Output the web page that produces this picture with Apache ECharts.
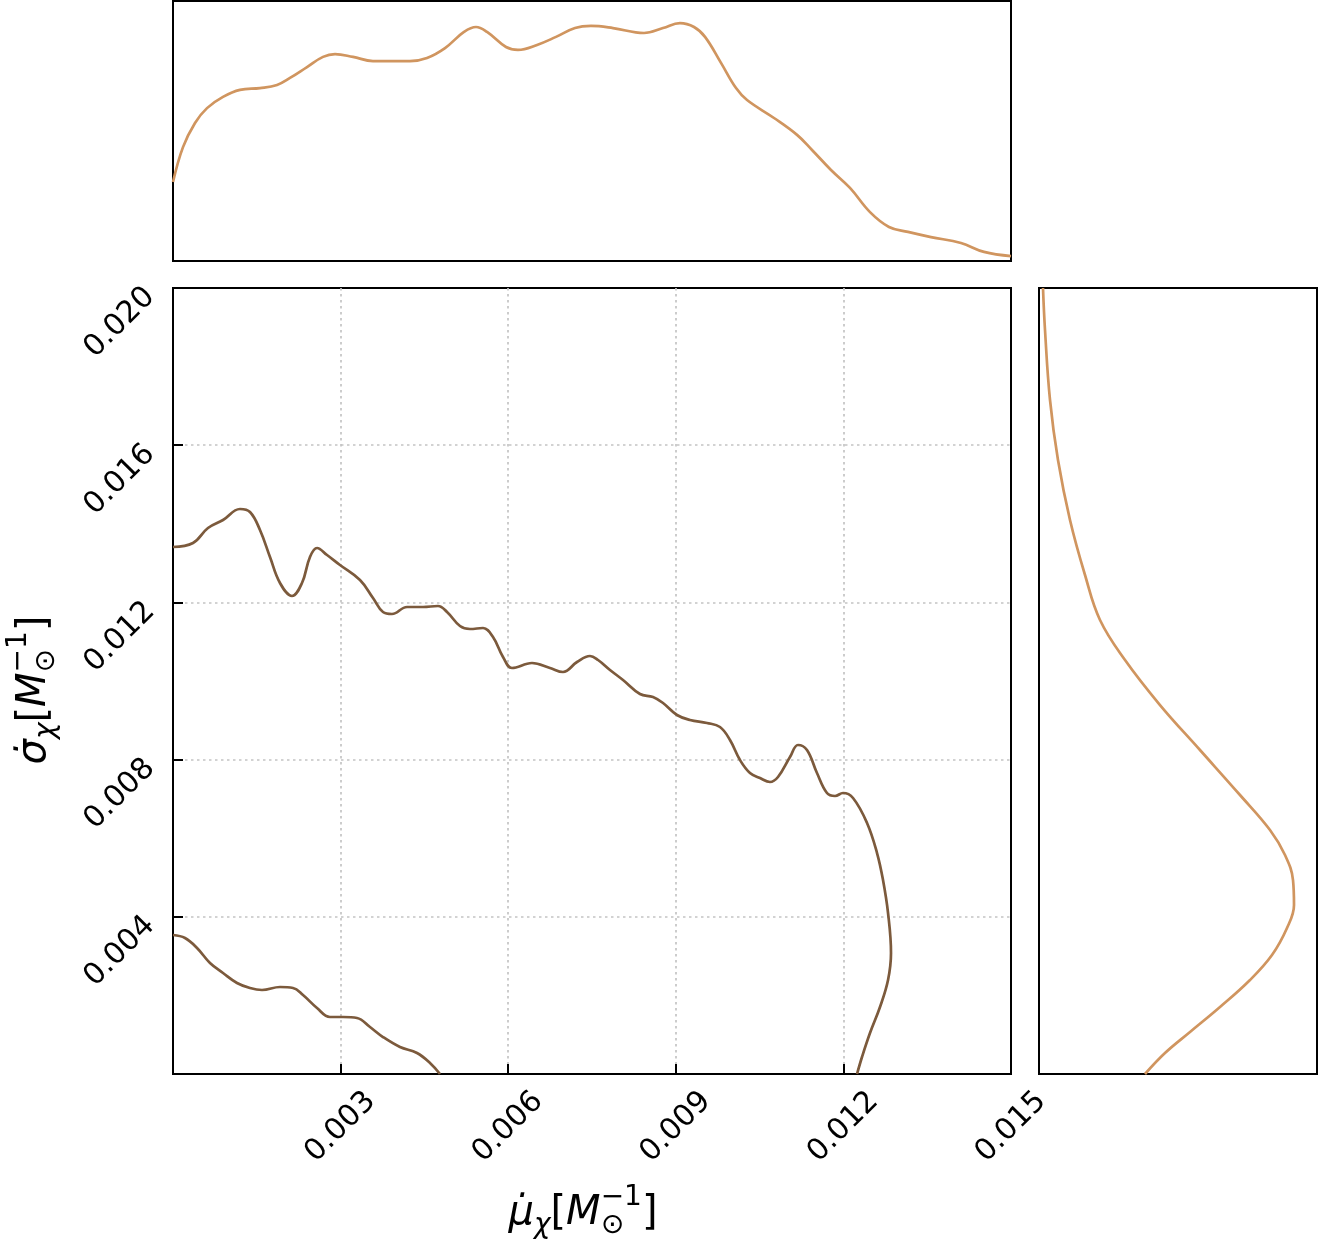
<!DOCTYPE html>
<html><head><meta charset="utf-8">
<script src="https://cdn.jsdelivr.net/npm/echarts@6/dist/echarts.min.js"></script>
<style>html,body{margin:0;padding:0;background:#fff}#c{width:1335px;height:1245px}</style>
</head><body><div id="c"></div><script>
// ---- data ----
const xTickValues = [0.003, 0.006, 0.009, 0.012, 0.015];
const xTickLabels = ['0.003', '0.006', '0.009', '0.012', '0.015'];
const yTickValues = [0.004, 0.008, 0.012, 0.016, 0.020];
const yTickLabels = ['0.004', '0.008', '0.012', '0.016', '0.020'];

// outer contour [mu_dot, sigma_dot]
const contourOuter = [
[0,0.013410],[0.000358,0.013511],[0.000626,0.013893],[0.000895,0.014097],[0.001199,0.014377],
[0.001378,0.014300],[0.001557,0.013842],[0.001736,0.013155],[0.001915,0.012494],[0.002130,0.012163],
[0.002309,0.012494],[0.002452,0.013155],[0.002578,0.013384],[0.002757,0.013206],[0.002989,0.012952],
[0.003347,0.012570],[0.003580,0.012112],[0.003759,0.011756],[0.003920,0.011705],[0.004189,0.011883],
[0.004475,0.011883],[0.004743,0.011908],[0.004905,0.011756],[0.005137,0.011399],[0.005316,0.011323],
[0.005549,0.011349],[0.005728,0.011120],[0.005907,0.010611],[0.006068,0.010331],[0.006426,0.010458],
[0.006748,0.010331],[0.006981,0.010229],[0.007232,0.010483],[0.007464,0.010636],[0.007608,0.010534],
[0.007822,0.010280],[0.008055,0.010025],[0.008359,0.009669],[0.008592,0.009593],[0.008771,0.009440],
[0.009021,0.009135],[0.009254,0.009008],[0.009558,0.008931],[0.009791,0.008829],[0.009970,0.008499],
[0.010149,0.007990],[0.010328,0.007659],[0.010507,0.007532],[0.010686,0.007430],[0.010829,0.007557],
[0.011044,0.008066],[0.011187,0.008372],[0.011348,0.008244],[0.011527,0.007659],[0.011706,0.007150],
[0.011850,0.007074],[0.011993,0.007150],[0.012172,0.007023],[0.012423,0.006387],[0.012602,0.005623],
[0.012709,0.004936],[0.012799,0.004097],[0.012852,0.003079],[0.012799,0.002392],[0.012655,0.001705],
[0.012476,0.001043],[0.012333,0.000433],[0.012244,0]
];
// inner contour
const contourInner = [
[0,0.003537],[0.000215,0.003461],[0.000430,0.003206],[0.000662,0.002824],[0.000895,0.002570],
[0.001146,0.002316],[0.001378,0.002188],[0.001593,0.002137],[0.001915,0.002214],[0.002148,0.002188],
[0.002327,0.002010],[0.002578,0.001679],[0.002810,0.001450],[0.003043,0.001450],[0.003294,0.001425],
[0.003526,0.001196],[0.003759,0.000941],[0.004063,0.000687],[0.004368,0.000534],[0.004600,0.000280],
[0.004779,0]
];
// marginal density of mu_dot (top panel): [mu_dot, density]
const margX = [
[0,0.304],[0.000179,0.438],[0.000394,0.531],[0.000609,0.588],[0.000895,0.631],[0.001199,0.658],
[0.001557,0.665],[0.001862,0.677],[0.002094,0.704],[0.002399,0.746],[0.002685,0.785],[0.002900,0.796],
[0.003222,0.785],[0.003580,0.769],[0.003938,0.769],[0.004242,0.769],[0.004547,0.781],[0.004869,0.819],
[0.005209,0.881],[0.005424,0.900],[0.005621,0.881],[0.005961,0.823],[0.006175,0.812],[0.006516,0.831],
[0.006856,0.862],[0.007196,0.896],[0.007482,0.904],[0.007876,0.896],[0.008431,0.877],[0.008771,0.896],
[0.009075,0.915],[0.009326,0.900],[0.009523,0.862],[0.009809,0.762],[0.010078,0.665],[0.010275,0.619],
[0.010758,0.550],[0.011170,0.485],[0.011438,0.427],[0.011778,0.350],[0.012118,0.281],[0.012476,0.188],
[0.012816,0.131],[0.013156,0.112],[0.013568,0.092],[0.014105,0.069],[0.014517,0.035],[0.015,0.019]
];
// marginal density of sigma_dot (right panel): [density, sigma_dot]
const margY = [
[0.0144,0.020],[0.0216,0.018931],[0.0396,0.017150],[0.0683,0.015623],[0.1115,0.014097],
[0.1655,0.012697],[0.2194,0.011552],[0.3094,0.010534],[0.4353,0.009389],[0.5791,0.008244],
[0.7230,0.007099],[0.8309,0.006209],[0.8849,0.005572],[0.9137,0.004936],[0.9173,0.004300],
[0.8921,0.003715],[0.8381,0.003028],[0.7590,0.002392],[0.6511,0.001705],[0.5432,0.001069],
[0.4532,0.000534],[0.3813,0]
];

// ---- style ----
const COL_MARG = '#d0955f';
const COL_CONT = '#7c5a3c';
const FONT = 'DejaVu Sans';
const TICK_FS = 30;
const TITLE_FS = 40;

const chart = echarts.init(document.getElementById('c'), null, {renderer: 'canvas'});

const mctx = document.createElement('canvas').getContext('2d');
function measure(t, size, italic) {
  mctx.font = (italic ? 'italic ' : 'normal ') + 'normal ' + size + 'px "' + FONT + '"';
  return mctx.measureText(t).width;
}
function mathPieces(pieces, S) {
  let x = 0, prevStart = 0, prevW = 0;
  const kids = [];
  pieces.forEach(p => {
    const size = S * (p.k || 1);
    const w = measure(p.t, size, p.it);
    let start;
    if (p.stack) { start = prevStart; x = prevStart + Math.max(prevW, w); }
    else { start = x; x += w; }
    let dy = 0;
    if (p.pos === 'sub') dy = 0.297 * S + 0.22 * S - 0.297 * size;
    if (p.pos === 'sup') dy = 0.297 * S - 0.47 * S - 0.297 * size;
    kids.push({type: 'text', x: start, y: dy,
      style: {text: p.t, fontSize: size, fontFamily: FONT, fontStyle: p.it ? 'italic' : 'normal',
        fill: '#000', align: 'left', verticalAlign: 'middle'}});
    prevStart = start; prevW = w;
  });
  return {kids, width: x};
}
const xTitle = mathPieces([
  {t: 'μ\u0307', it: true}, {t: 'χ', it: true, k: 0.7, pos: 'sub'}, {t: '['}, {t: 'M', it: true},
  {t: '⊙', k: 0.7, pos: 'sub'}, {t: '−1', k: 0.7, pos: 'sup', stack: true}, {t: ']'}
], TITLE_FS);
const yTitle = mathPieces([
  {t: 'σ\u0307', it: true}, {t: 'χ', it: true, k: 0.7, pos: 'sub'}, {t: '['}, {t: 'M', it: true},
  {t: '⊙', k: 0.7, pos: 'sub'}, {t: '−1', k: 0.7, pos: 'sup', stack: true}, {t: ']'}
], TITLE_FS);

const G_MAIN = {left: 173, top: 288, width: 838, height: 786};
const G_TOP = {left: 173, top: 1, width: 838, height: 260};
const G_RIGHT = {left: 1039, top: 288, width: 278, height: 786};
const border = {show: true, borderColor: '#000', borderWidth: 2, backgroundColor: 'rgba(0,0,0,0)'};

const hiddenAxis = (gi, min, max) => ({type: 'value', gridIndex: gi, min, max, show: false,
  splitLine: {show: false}});

const gridLineStyle = {color: '#c4c4c4', width: 1.7, type: [2.5, 3.5]};

const option = {
  animation: false,
  backgroundColor: '#fff',
  grid: [Object.assign({}, G_TOP, border), Object.assign({}, G_MAIN, border), Object.assign({}, G_RIGHT, border)],
  xAxis: [
    hiddenAxis(0, 0, 0.015),
    {type: 'value', gridIndex: 1, min: 0, max: 0.015, interval: 0.003,
      axisLine: {show: false},
      axisTick: {show: true, inside: true, length: 10, lineStyle: {color: '#000', width: 2}},
      axisLabel: {show: true, rotate: 45, margin: 53, align: 'center', verticalAlign: 'middle',
        fontSize: TICK_FS, fontFamily: FONT, color: '#000',
        formatter: v => { const i = xTickValues.findIndex(t => Math.abs(t - v) < 1e-9); return i >= 0 ? xTickLabels[i] : ''; }},
      splitLine: {show: true, showMinLine: false, showMaxLine: false, lineStyle: gridLineStyle}},
    hiddenAxis(2, 0, 1)
  ],
  yAxis: [
    hiddenAxis(0, 0, 1),
    {type: 'value', gridIndex: 1, min: 0, max: 0.02, interval: 0.004,
      axisLine: {show: false},
      axisTick: {show: true, inside: true, length: 10, lineStyle: {color: '#000', width: 2}},
      axisLabel: {show: true, rotate: 45, margin: 27, align: 'right', verticalAlign: 'top', lineHeight: 12,
        fontSize: TICK_FS, fontFamily: FONT, color: '#000',
        formatter: v => { const i = yTickValues.findIndex(t => Math.abs(t - v) < 1e-9); return i >= 0 ? yTickLabels[i] : ''; }},
      splitLine: {show: true, showMinLine: false, showMaxLine: false, lineStyle: gridLineStyle}},
    hiddenAxis(2, 0, 0.02)
  ],
  series: [
    {type: 'line', xAxisIndex: 0, yAxisIndex: 0, data: margX, showSymbol: false, symbol: 'none', smooth: 0.4,
      lineStyle: {color: COL_MARG, width: 2.7}, z: 3},
    {type: 'line', xAxisIndex: 1, yAxisIndex: 1, data: contourOuter, showSymbol: false, symbol: 'none', smooth: 0.4,
      lineStyle: {color: COL_CONT, width: 2.7}, z: 3},
    {type: 'line', xAxisIndex: 1, yAxisIndex: 1, data: contourInner, showSymbol: false, symbol: 'none', smooth: 0.4,
      lineStyle: {color: COL_CONT, width: 2.7}, z: 3},
    {type: 'line', xAxisIndex: 2, yAxisIndex: 2, data: margY, showSymbol: false, symbol: 'none', smooth: 0.4,
      lineStyle: {color: COL_MARG, width: 2.7}, z: 3}
  ],
  graphic: [
    {type: 'group', x: 583 - xTitle.width / 2, y: 1225 - 0.297 * TITLE_FS, children: xTitle.kids},
    {type: 'group', x: 46 - 0.297 * TITLE_FS, y: 690 + yTitle.width / 2, rotation: Math.PI / 2, children: yTitle.kids}
  ]
};
chart.setOption(option);
</script></body></html>
